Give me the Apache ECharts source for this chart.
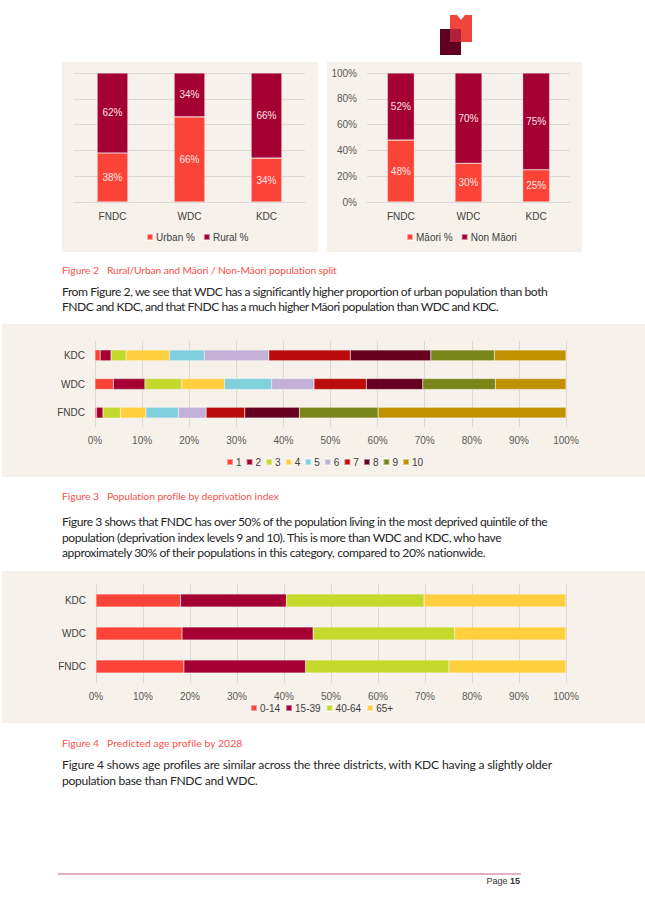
<!DOCTYPE html>
<html><head><meta charset="utf-8">
<script src="https://cdn.jsdelivr.net/npm/echarts@6/dist/echarts.min.js"></script>
<style>
html,body{margin:0;padding:0;background:#fff;width:645px;height:913px;overflow:hidden;position:relative;font-family:Lato,sans-serif;}
.abs{position:absolute;}
.panel{position:absolute;background:#f6f1eb;}
.ln{position:absolute;left:62px;white-space:nowrap;font-size:12.1px;line-height:14px;color:#262626;}
.cp{position:absolute;white-space:nowrap;font-size:10.3px;line-height:12px;color:#f9504a;}
</style></head>
<body>
<!-- logo -->
<div class="abs" style="left:450px;top:15px;width:22px;height:27px;background:#f0453a;"></div>
<div class="abs" style="left:457px;top:15px;width:8px;height:5px;background:#fff;clip-path:polygon(0 0,100% 0,50% 100%);"></div>
<div class="abs" style="left:440px;top:29px;width:21px;height:26px;background:#5f0020;"></div>
<div class="abs" style="left:450px;top:29px;width:11px;height:13px;background:#b0203a;"></div>

<div class="panel" style="left:62px;top:62px;width:256px;height:190px;"></div>
<div class="panel" style="left:327px;top:62px;width:255px;height:190px;"></div>
<div id="c1" class="abs" style="left:62px;top:62px;width:256px;height:190px;"></div>
<div id="c2" class="abs" style="left:327px;top:62px;width:255px;height:190px;"></div>

<div class="cp" style="left:62px;top:264px;" data-w="37">Figure 2</div>
<div class="cp" style="left:107px;top:264px;" data-w="230">Rural/Urban and Māori / Non-Māori population split</div>
<div class="ln" style="top:285px;" data-w="486">From Figure 2, we see that WDC has a significantly higher proportion of urban population than both</div>
<div class="ln" style="top:300px;" data-w="437">FNDC and KDC, and that FNDC has a much higher Māori population than WDC and KDC.</div>

<div class="panel" style="left:2px;top:324px;width:643px;height:153px;"></div>
<div id="c3" class="abs" style="left:2px;top:324px;width:643px;height:153px;"></div>

<div class="cp" style="left:62px;top:490px;" data-w="37">Figure 3</div>
<div class="cp" style="left:107px;top:490px;" data-w="172">Population profile by deprivation index</div>
<div class="ln" style="top:515px;" data-w="486">Figure 3 shows that FNDC has over 50% of the population living in the most deprived quintile of the</div>
<div class="ln" style="top:531px;" data-w="440">population (deprivation index levels 9 and 10). This is more than WDC and KDC, who have</div>
<div class="ln" style="top:546px;" data-w="424">approximately 30% of their populations in this category, compared to 20% nationwide.</div>

<div class="panel" style="left:2px;top:571px;width:643px;height:152px;"></div>
<div id="c4" class="abs" style="left:2px;top:571px;width:643px;height:152px;"></div>

<div class="cp" style="left:62px;top:737px;" data-w="37">Figure 4</div>
<div class="cp" style="left:107px;top:737px;" data-w="135">Predicted age profile by 2028</div>
<div class="ln" style="top:758px;" data-w="490">Figure 4 shows age profiles are similar across the three districts, with KDC having a slightly older</div>
<div class="ln" style="top:774px;" data-w="196">population base than FNDC and WDC.</div>

<div class="abs" style="left:58px;top:873px;width:463px;height:1.5px;background:#e6aec4;"></div>
<div class="abs" style="left:440px;top:876px;width:80px;text-align:right;font-size:9px;color:#333;font-family:'Liberation Sans',sans-serif;">Page <b>15</b></div>

<script>
// fit text lines to measured widths
document.querySelectorAll('[data-w]').forEach(el => {
  const target = +el.dataset.w;
  const w = el.getBoundingClientRect().width;
  const n = el.textContent.length - 1;
  if (n > 0) el.style.letterSpacing = ((target - w) / n) + 'px';
});

// ---- Figure 2 data ----
const districts = ['FNDC', 'WDC', 'KDC'];
const urbanPct = [38, 66, 34];
const ruralPct = [62, 34, 66];
const maoriPct = [48, 30, 25];
const nonMaoriPct = [52, 70, 75];
// ---- Figure 3 data (order: FNDC, WDC, KDC) ----
const depCats = ['FNDC', 'WDC', 'KDC'];
const depLevels = ['1','2','3','4','5','6','7','8','9','10'];
const dep1 = [0.3, 3.9, 1.1];
const dep2 = [1.4, 6.7, 2.3];
const dep3 = [3.7, 7.8, 3.2];
const dep4 = [5.4, 9.1, 9.2];
const dep5 = [6.9, 10.0, 7.4];
const dep6 = [5.9, 9.0, 13.7];
const dep7 = [8.2, 11.1, 17.3];
const dep8 = [11.6, 12.0, 17.1];
const dep9 = [16.7, 15.4, 13.5];
const dep10 = [39.9, 15.0, 15.2];
// ---- Figure 4 data (order: FNDC, WDC, KDC) ----
const ageCats = ['FNDC', 'WDC', 'KDC'];
const ageGroups = ['0-14', '15-39', '40-64', '65+'];
const age0_14 = [18.7, 18.3, 18.0];
const age15_39 = [25.9, 27.9, 22.5];
const age40_64 = [30.5, 30.1, 29.3];
const age65plus = [24.9, 23.7, 30.2];

const FONT = 'Liberation Sans, Arial, sans-serif';
const AX = '#595959';
const GRID = '#dcd8d3';
const C_RED = '#fc4337', C_CRIM = '#a50034';
const depColors = ['#fc4337','#a50034','#c5d92d','#ffcf40','#7fd0dc','#c2b0d7','#bb0b0b','#650021','#788619','#c09100'];
const ageColors = ['#fc4337','#a50034','#c5d92d','#ffcf40'];

function legendCfg(names, left, top, gap) {
  return {data:names, left:left, top:top, padding:0, itemWidth:6, itemHeight:6, itemGap:gap, icon:'rect',
    textStyle:{fontSize:10, color:'#404040', fontFamily:FONT, padding:[0,0,0,-2]}};
}

function colChart(el, names, a, b, showY, legendLeft) {
  const ch = echarts.init(document.getElementById(el), null, {renderer:'svg'});
  const lbl = {show:true, position:'inside', color:'#fbe3e3', fontSize:10, fontFamily:FONT, formatter: p => p.value + '%'};
  ch.setOption({
    animation:false,
    textStyle:{fontFamily:FONT},
    grid: showY ? {left:40, right:12, top:11, bottom:50} : {left:12, right:13, top:11, bottom:50},
    legend: legendCfg(names, legendLeft, 170, 8),
    xAxis:{type:'category', data:districts, axisTick:{show:false},
      axisLine:{lineStyle:{color:GRID}}, axisLabel:{color:'#404040', fontSize:10, margin:9}},
    yAxis:{type:'value', min:0, max:100, interval:20,
      axisLabel:{show:showY, color:AX, fontSize:10, formatter:'{value}%', margin:10},
      axisLine:{show:false}, axisTick:{show:false}, splitLine:{lineStyle:{color:GRID}}},
    series:[
      {name:names[0], type:'bar', stack:'s', data:a, barWidth:'40%', itemStyle:{color:C_RED, borderColor:'rgba(255,255,255,0.5)', borderWidth:0.6}, label:lbl},
      {name:names[1], type:'bar', stack:'s', data:b, barWidth:'40%', itemStyle:{color:C_CRIM, borderColor:'rgba(255,255,255,0.5)', borderWidth:0.6}, label:lbl}
    ]
  });
}
colChart('c1', ['Urban %','Rural %'], urbanPct, ruralPct, false, 84);
colChart('c2', ['Māori %','Non Māori'], maoriPct, nonMaoriPct, true, 79);

function hbarChart(el, cats, names, seriesData, colors, grid, legendLeft, legendTop, barW, gap) {
  const ch = echarts.init(document.getElementById(el), null, {renderer:'svg'});
  ch.setOption({
    animation:false,
    textStyle:{fontFamily:FONT},
    grid: grid,
    legend: legendCfg(names, legendLeft, legendTop, gap),
    yAxis:{type:'category', data:cats, axisTick:{show:false}, axisLine:{show:false},
      axisLabel:{color:'#404040', fontSize:10, margin:10}},
    xAxis:{type:'value', min:0, max:100, interval:10,
      axisLabel:{color:AX, fontSize:10, formatter:'{value}%', margin:8},
      axisLine:{show:false}, axisTick:{show:false}, splitLine:{lineStyle:{color:GRID}}},
    series: names.map((n,i) => ({name:n, type:'bar', stack:'s', data:seriesData[i], barWidth:barW,
      itemStyle:{color:colors[i], borderColor:'rgba(255,255,255,0.45)', borderWidth:0.5}}))
  });
}
hbarChart('c3', depCats, depLevels, [dep1,dep2,dep3,dep4,dep5,dep6,dep7,dep8,dep9,dep10], depColors,
  {left:93, right:79, top:17, bottom:50}, 224, 133, '38%', 4);
hbarChart('c4', ageCats, ageGroups, [age0_14,age15_39,age40_64,age65plus], ageColors,
  {left:94, right:79, top:13, bottom:40}, 248, 132, '40%', 5);
</script>
</body></html>
